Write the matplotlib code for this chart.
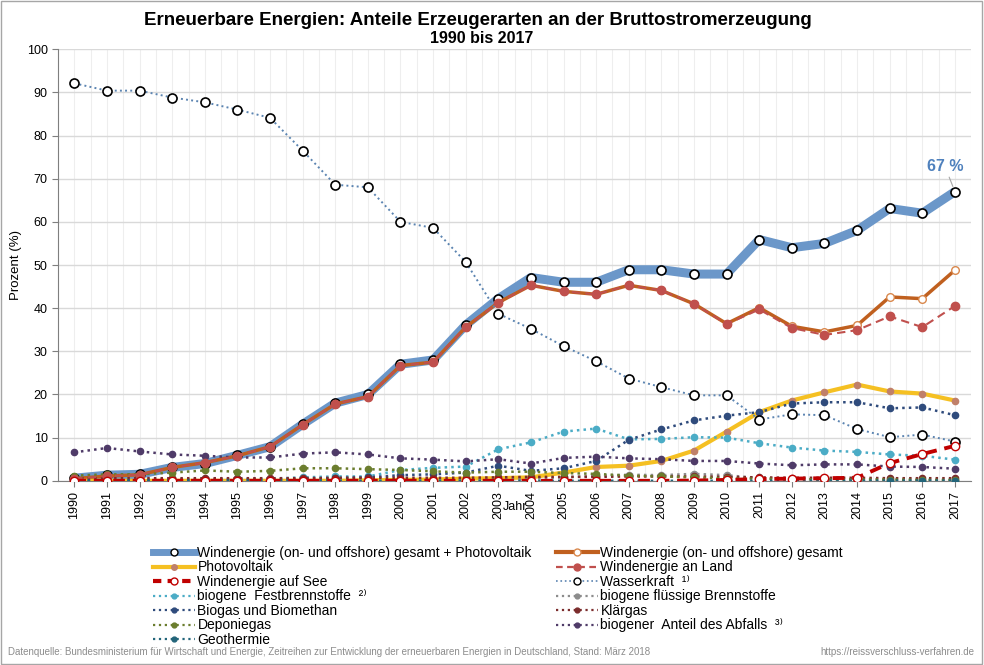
import matplotlib.pyplot as plt
from matplotlib.patches import Rectangle
from matplotlib.lines import Line2D
import numpy as np

plt.rcParams['font.family'] = ['Liberation Sans', 'DejaVu Sans']

### data (Prozent der EE-Bruttostromerzeugung) ###

years = list(range(1990, 2018))

wind_pv = [0.6, 1.3, 1.5, 3.1, 4.0, 5.9, 7.9, 13.1, 18.0, 20.0, 27.0, 28.0, 36.1, 42.2, 47.1, 46.0,
           46.0, 48.9, 48.9, 47.9, 47.9, 55.9, 54.0, 55.0, 58.0, 63.1, 62.0, 67.0]
wind = [0.5, 1.1, 1.4, 3.1, 4.2, 5.8, 7.9, 13.0, 17.8, 19.5, 26.7, 27.5, 35.6, 41.3, 45.3, 43.9,
        43.2, 45.3, 44.1, 41.0, 36.4, 40.1, 35.8, 34.5, 36.0, 42.6, 42.2, 48.8]
wind_land = [0.5, 1.1, 1.4, 3.1, 4.2, 5.8, 7.9, 13.0, 17.8, 19.5, 26.7, 27.5, 35.6, 41.3, 45.3, 43.9,
             43.2, 45.3, 44.1, 41.0, 36.3, 39.7, 35.4, 33.8, 34.9, 38.1, 35.6, 40.5]
wind_see = [0, 0, 0, 0, 0, 0, 0, 0, 0, 0, 0, 0, 0, 0, 0, 0,
            0, 0, 0, 0.05, 0.2, 0.4, 0.5, 0.6, 0.7, 4.1, 6.2, 8.1]
pv = [0, 0, 0, 0, 0, 0, 0, 0, 0, 0.1, 0.2, 0.3, 0.5, 0.6, 0.8, 1.9,
      3.2, 3.5, 4.6, 7.0, 11.4, 15.9, 18.6, 20.5, 22.3, 20.7, 20.2, 18.6]
wasser = [92.1, 90.4, 90.4, 88.8, 87.7, 86.0, 84.1, 76.5, 68.6, 68.0, 60.0, 58.6, 50.7, 38.7, 35.2, 31.2,
          27.7, 23.7, 21.7, 19.8, 19.8, 14.2, 15.4, 15.2, 12.0, 10.1, 10.7, 9.1]
fest = [0.2, 0.2, 0.3, 0.3, 0.4, 0.4, 0.5, 0.8, 1.0, 1.0, 2.5, 3.0, 3.3, 7.3, 8.9, 11.4,
        12.1, 9.6, 9.7, 10.1, 10.0, 8.7, 7.7, 7.0, 6.7, 6.1, 5.8, 4.9]
fluessig = [0, 0, 0, 0, 0, 0, 0, 0, 0, 0, 0.05, 0.1, 0.2, 0.3, 0.5, 0.8,
            1.2, 1.4, 1.3, 1.6, 1.3, 0.6, 0.4, 0.3, 0.3, 0.2, 0.2, 0.2]
biogas = [0.1, 0.1, 0.1, 0.2, 0.2, 0.3, 0.3, 0.4, 0.6, 0.8, 1.3, 1.5, 1.9, 3.5, 2.3, 2.9,
          4.6, 9.5, 11.9, 14.0, 15.1, 15.9, 17.9, 18.2, 18.2, 16.8, 17.0, 15.2]
klaergas = [0.6, 0.6, 0.6, 0.6, 0.6, 0.6, 0.6, 0.6, 0.7, 0.7, 0.7, 0.7, 0.7, 0.8, 0.9, 0.9,
            0.9, 1.0, 1.0, 1.0, 0.9, 0.8, 0.7, 0.7, 0.7, 0.6, 0.6, 0.6]
deponie = [1.2, 1.5, 1.5, 1.9, 2.4, 2.1, 2.3, 2.9, 2.9, 2.7, 2.5, 2.2, 1.9, 2.1, 2.1, 1.8,
           1.6, 1.2, 1.0, 0.8, 0.6, 0.5, 0.4, 0.3, 0.3, 0.3, 0.2, 0.2]
abfall = [6.6, 7.6, 6.8, 6.1, 5.8, 5.4, 5.4, 6.3, 6.6, 6.1, 5.2, 4.9, 4.5, 5.0, 4.0, 5.3,
          5.6, 5.2, 5.0, 4.6, 4.6, 4.0, 3.6, 3.8, 3.8, 3.3, 3.2, 2.8]
geo = [0] * 21 + [0.01, 0.02, 0.03, 0.03, 0.04, 0.05, 0.05]

### figure ###

fig = plt.figure(figsize=(9.84, 6.65), dpi=100)
ax = fig.add_axes([0.059, 0.277, 0.928, 0.649])

ax.plot(years, wind_pv, color='#6b97c9', lw=6.5, solid_capstyle='butt', marker='o', ms=6.5,
        mfc='white', mec='black', mew=1.2, zorder=3)
ax.plot(years, wind, color='#c0601f', lw=2.5, marker='o', ms=5.5, mfc='white', mec='#d9884d', mew=1, zorder=4)
ax.plot(years, wind_land, color='#c0504d', lw=1.5, ls=(0, (4, 2.5)), marker='o', ms=6, mfc='#c0504d',
        mec='#c0504d', zorder=5)
ax.plot(years, pv, color='#f5c022', lw=3, marker='o', ms=4.5, mfc='#c0806a', mec='#c0806a', zorder=4)
ax.plot(years, wind_see, color='#c00000', lw=2.8, ls=(0, (3, 2)), marker='o', ms=6, mfc='white',
        mec='#c00000', mew=1, zorder=6)
ax.plot(years, wasser, color='#5b84b1', lw=1.4, ls=':', marker='o', ms=6.5, mfc='white', mec='black',
        mew=1.2, zorder=5)

small = [
    (fest, '#4bacc6'),
    (fluessig, '#8c8c8c'),
    (biogas, '#2f4b7c'),
    (klaergas, '#7b2c2c'),
    (deponie, '#6b7d2e'),
    (abfall, '#4f3b68'),
    (geo, '#23657a'),
]
for vals, c in small:
    ax.plot(years, vals, color=c, lw=1.8, ls=':', marker='o', ms=4.5, mfc=c, mec=c, zorder=4)

ax.set_xlim(1989.5, 2017.5)
ax.set_ylim(0, 100)
ax.set_yticks(np.arange(0, 101, 10))
ax.set_xticks(years)
ax.set_xticklabels([str(y) for y in years], rotation=90, fontsize=9)
ax.tick_params(axis='y', labelsize=9, color='#7f7f7f', length=4)
ax.tick_params(axis='x', color='#7f7f7f', length=4)
ax.set_xticks(np.arange(1989.5, 2018, 1), minor=True)
ax.tick_params(axis='x', which='minor', length=0)
ax.grid(axis='y', color='#d9d9d9', lw=1)
ax.grid(axis='x', which='both', color='#eeeeee', lw=0.8)
ax.set_axisbelow(True)
for s in ['top', 'right']:
    ax.spines[s].set_visible(False)
for s in ['left', 'bottom']:
    ax.spines[s].set_color('#7f7f7f')

ax.set_ylabel('Prozent (%)', fontsize=9.5, labelpad=3)
fig.text(515 / 984, 1 - 507 / 665, 'Jahr', fontsize=9, ha='center', va='center')

ax.annotate('67 %', xy=(2017, 67), xytext=(2016.7, 71.0), fontsize=11.5, fontweight='bold',
            color='#4f81bd', ha='center', va='bottom',
            arrowprops=dict(arrowstyle='-', color='#a6a6a6', lw=0.8, shrinkA=0, shrinkB=4))

fig.text(0.486, 0.969, 'Erneuerbare Energien: Anteile Erzeugerarten an der Bruttostromerzeugung',
         ha='center', va='center', fontsize=13.5, fontweight='bold')
fig.text(0.49, 0.942, '1990 bis 2017', ha='center', va='center', fontsize=11.5, fontweight='bold')

# legend, two columns drawn as two legends
def h(color, lw, ls='-', mfc=None, mec=None, ms=5):
    return Line2D([], [], color=color, lw=lw, ls=ls, marker='o', ms=ms,
                  mfc=mfc or color, mec=mec or color)

handles_left = [
    h('#6b97c9', 5, mfc='white', mec='black', ms=5),
    h('#f5c022', 3, mfc='#c0806a', mec='#c0806a', ms=4),
    h('#c00000', 3, ls=(0, (2, 1.5)), mfc='white', mec='#c00000', ms=5),
    h('#4bacc6', 1.6, ls=':', ms=3.5),
    h('#2f4b7c', 1.6, ls=':', ms=3.5),
    h('#6b7d2e', 1.6, ls=':', ms=3.5),
    h('#23657a', 1.6, ls=':', ms=3.5),
]
labels_left = [
    'Windenergie (on- und offshore) gesamt + Photovoltaik',
    'Photovoltaik',
    'Windenergie auf See',
    'biogene  Festbrennstoffe  ²⁾',
    'Biogas und Biomethan',
    'Deponiegas',
    'Geothermie',
]
handles_right = [
    h('#c0601f', 3, mfc='white', mec='#d9884d', ms=5),
    h('#c0504d', 1.6, ls=(0, (3, 2)), ms=5),
    h('#5b84b1', 1.2, ls=':', mfc='white', mec='black', ms=5),
    h('#8c8c8c', 1.6, ls=':', ms=3.5),
    h('#7b2c2c', 1.6, ls=':', ms=3.5),
    h('#4f3b68', 1.6, ls=':', ms=3.5),
]
labels_right = [
    'Windenergie (on- und offshore) gesamt',
    'Windenergie an Land',
    'Wasserkraft  ¹⁾',
    'biogene flüssige Brennstoffe',
    'Klärgas',
    'biogener  Anteil des Abfalls  ³⁾',
]
leg_kw = dict(loc='upper left', frameon=False, fontsize=10, handlelength=3.0, handletextpad=0.2,
              labelspacing=0.035, borderpad=0, borderaxespad=0)
leg1 = fig.legend(handles_left, labels_left, bbox_to_anchor=(153 / 984, 1 - 546 / 665), **leg_kw)
leg2 = fig.legend(handles_right, labels_right, bbox_to_anchor=(556 / 984, 1 - 546 / 665), **leg_kw)

fig.text(0.008, 0.02, 'Datenquelle: Bundesministerium für Wirtschaft und Energie, Zeitreihen zur Entwicklung '
         'der erneuerbaren Energien in Deutschland, Stand: März 2018', fontsize=7, color='#8c8c8c',
         va='center')
fig.text(0.99, 0.02, 'https://reissverschluss-verfahren.de', fontsize=7, color='#8c8c8c', ha='right',
         va='center')

fig.patches.append(Rectangle((0.001, 0.001), 0.997, 0.997, transform=fig.transFigure, fill=False,
                             ec='#a6a6a6', lw=1))

fig.savefig('out.png', dpi=100)
